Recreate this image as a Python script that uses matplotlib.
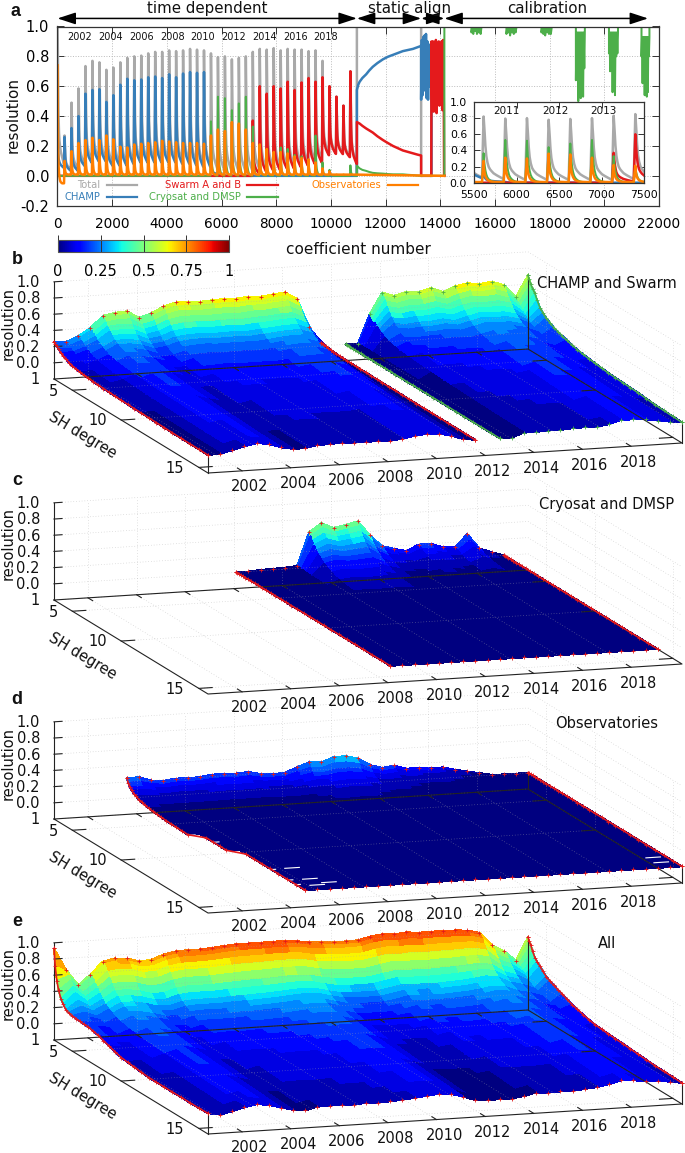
import numpy as np
import matplotlib
matplotlib.use("Agg")
import matplotlib.pyplot as plt
from matplotlib.cm import ScalarMappable
from matplotlib.colors import BoundaryNorm, Normalize
from mpl_toolkits.mplot3d import proj3d
from mpl_toolkits.mplot3d.art3d import Poly3DCollection

W, H = 685, 1153
plt.rcParams.update({
    "font.family": "DejaVu Sans",
    "axes.unicode_minus": False,
    "text.color": "#111111",
})

GREY, BLUE, RED, GREEN, ORANGE = "#a9a9a9", "#377eb8", "#e41a1c", "#4daf4a", "#ff7f00"

# ---- panel a: peak and end-of-epoch value for each of the 43 epochs (255 coefficients each)
epoch_len = 255
total_peak = [1.0, .27, .49, .585, .735, .77, .76, .71, .725, .76, .79, .80, .805, .82, .83, .83, .84, .835, .84, .85,
              .845, .84, .82, .795, .80, .78, .79, .80, .83, .85, .845, .855, .84, .85, .845, .845, .835, .84, .77,
              .60, .53, .47, .70]
total_end = [.06, .04, .04, .07, .09, .10, .10, .07, .07, .07, .08, .09, .09, .09, .09, .09, .09, .08, .08, .07, .06,
             .05, .03, .02, .02, .02, .02, .02, .03, .03, .04, .04, .05, .05, .06, .07, .08, .09, .14, .15, .15, .13,
             .08]
champ_peak = [.28, .26, .32, .40, .55, .575, .58, .495, .54, .61, .65, .64, .645, .66, .665, .655, .68, .66, .685, .695,
              .69, .695, .10, .01] + [0.0] * 19
champ_end = [.05, .03, .03, .06, .08, .09, .09, .06, .06, .06, .07, .08, .08, .08, .08, .08, .08, .07, .07, .06, .05,
             .05, .01] + [0.0] * 20
swarm_peak = [0.0] * 28 + [.37, .60, .55, .60, .585, .63, .575, .625, .655, .63, .66, .60, .53, .47, .70]
swarm_end = [0.0] * 28 + [.01, .02, .03, .03, .04, .04, .05, .06, .07, .08, .13, .14, .14, .12, .07]
cryo_peak = [0.0] * 22 + [.365, .53, .52, .44, .485, .53, .33, .20, .13, .12, .19, .18, .14, .13, .11, .27, .09, .04,
                          0.0, 0.0, .07]
obs_peak = [.74, .10, .165, .22, .24, .255, .24, .27, .245, .195, .19, .21, .215, .22, .225, .235, .23, .225, .22, .22,
            .22, .215, .27, .31, .30, .36, .35, .31, .22, .21, .18, .16, .16, .15, .13, .12, .11, .09, .05, .03, .01,
            .01, .01]
obs_end = [-.05] + [.008] * 42

# static alignment part of panel a
static_x = [10950, 11000, 11050, 11150, 11290, 11400, 11530, 11700, 11900, 12080, 12270, 12450, 12630, 12820, 13000,
            13150, 13300]
static_champ = [.575, .61, .63, .655, .68, .705, .73, .755, .78, .797, .81, .823, .835, .843, .85, .86, .87]
static_swarm = [.36, .355, .35, .335, .317, .305, .29, .265, .24, .22, .20, .185, .17, .16, .15, .143, .136]
static_cryo = [.067, .058, .05, .04, .033, .026, .02, .017, .015, .012, .01, .01, .01, .007, .005, .002, 0.0]
noise_champ = [.51, .91, .54, .93, .60, .94, .57, .95, .52, .90, .51, .88, .60, .86, .70, .80]
noise_swarm = [.90, .45, .90, .43, .88, .46, .91, .42, .88, .52, .90, .47, .86, .50, .90, .44, .91, .48]

# calibration part of panel a: range of each dropout block and its lows
calib_start = [15140, 16420, 17700, 18960, 20170, 21360]
calib_stop = [15510, 16790, 18080, 19290, 20500, 21650]
calib_high = [1.0, 1.0, 1.0, .96, .96, .93]
calib_low = [[.96, .95, .97, .95, .96, .95],
             [.95, .96, .94, .96, .95, .96],
             [.96, .95, .94, .96, .95, .95],
             [.64, .70, .50, .64, .52, .68, .53, .72],
             [.82, .70, .80, .56, .82, .54, .80, .82],
             [.80, .62, .82, .54, .80, .53, .56, .80]]

# ---- panels b-e: resolution per epoch
epochs = np.arange(40) * 0.5 + 2000.6
coef_rows = [0, 2, 5, 8, 12, 16, 21, 26, 32, 38, 45, 52, 60, 68, 77, 86, 96, 106, 117, 128, 140, 152, 165, 178, 192,
             206, 221, 236, 252, 268]

back_champ = [.26, .25, .31, .40, .54, .57, .58, .49, .535, .61, .65, .65, .64, .65, .655, .65, .665, .655, .675, .69,
              .60, .24, .04]
front_champ = [.02, .03, .06, .10, .13, .11, .06, .03, .03, .06, .06, .07, .06, .06, .06, .055, .07, .10, .11, .105,
               .07, .02, 0.0]
back_swarm = [0.0, 0.0, .36, .61, .56, .60, .59, .63, .57, .63, .66, .64, .66, .61, .45, .71]
front_swarm = [0.0, 0.0, .05, .05, .057, .055, .067, .07, .067, .09, .13, .13, .12, .095, .073, .055]
last_swarm = [.71, .67, .62, .58, .54, .47, .40, .36, .32, .29, .26, .24, .22, .20, .18, .165, .15, .14, .13, .12, .11,
              .105, .10, .095, .09, .08, .07, .065, .06, .055]
fall_b = [1, .93, .85, .75, .65, .56, .47, .40, .33, .29, .25, .225, .20, .18, .16, .145, .13, .115, .10, .09, .08, .07,
          .06, .05, .04, .03, .02, .015, .01, 0]

back_cryo = [0.0, 0.0, .01, .015, .02, .03, .44, .54, .47, .50, .535, .35, .21, .165, .13, .20, .20, .15, .14, .29,
             .105, .05, 0.0]
front_cryo = [.004] * 23
fall_c = [1, .90, .80, .70, .60, .51, .42, .35, .28, .23, .18, .15, .12, .10, .08, .065, .05, .04, .03, .025, .02, .015,
          .01, .007, .005, .002, 0, 0, 0, 0]

back_obs = [.25, .25, .20, .185, .205, .20, .205, .225, .225, .22, .23, .195, .185, .19, .25, .30, .29, .345, .35, .31,
            .22, .175, .195, .145, .15, .13, .135, .095, .065, .035, .005, 0.0, 0.0, 0.0]
front_obs = [.005] * 34
fall_d = [1, .80, .62, .52, .42, .35, .28, .23, .18, .145, .11, .09, .07, .055, .04, .03, .02, .015, .01, .007, .005,
          .002, 0, 0, 0, 0, 0, 0, 0, 0]
obs_row_start = [0] * 18 + [1] * 4 + [2] * 8
obs_hole_year = [2003.6, 2004.06, 2004.5, 2005.5, 2004.5, 2004.5, 2005.5, 2005.4, 2006.0, 2019.6, 2019.6]
obs_hole_coef = [106, 128, 208, 207, 238, 251, 238, 255, 250, 239, 253]

back_all = [.93, .655, .46, .58, .73, .76, .75, .705, .715, .77, .80, .805, .805, .815, .83, .84, .84, .84, .845, .84,
            .83, .805, .80, .79, .79, .795, .83, .85, .84, .855, .84, .845, .84, .84, .83, .79, .63, .55, .42, .70]
front_all = [.025, .03, .06, .10, .13, .11, .07, .03, .015, .05, .055, .05, .05, .06, .055, .06, .07, .085, .10, .115,
             .105, .06, .01, 0.0, 0.0, 0.0, .02, .055, .045, .05, .05, .06, .075, .10, .14, .13, .11, .10, .085, .055]
first_all = [.93, .72, .55, .45, .36, .31, .26, .245, .235, .23, .225, .22, .22, .205, .19, .165, .14, .115, .09, .08,
             .07, .06, .05, .05, .05, .05, .05, .05, .05, .055]
last_all = [.70, .66, .62, .56, .50, .465, .43, .39, .35, .325, .30, .278, .255, .228, .20, .18, .16, .14, .125, .118,
            .11, .105, .10, .092, .085, .078, .07, .067, .065, .06]
fall_e = [1, .96, .92, .84, .75, .65, .54, .46, .38, .33, .28, .245, .21, .19, .17, .155, .14, .125, .11, .10, .09, .08,
          .07, .06, .05, .04, .03, .02, .01, 0]

year_ticks = [2002, 2004, 2006, 2008, 2010, 2012, 2014, 2016, 2018]
degree_ticks = [1, 5, 10, 15]
degree_tick_coef = [0, 32, 117, 252]
res_ticks = [0.0, 0.2, 0.4, 0.6, 0.8, 1.0]

fig = plt.figure(figsize=(W / 100, H / 100), dpi=100)


def box(left, top, right, bottom):
    return [left / W, 1 - bottom / H, (right - left) / W, (bottom - top) / H]


def ptext(x, y, s, **kw):
    kw.setdefault("ha", "center")
    kw.setdefault("va", "center")
    fig.text(x / W, 1 - y / H, s, **kw)


def epoch_curve(peak, end, fall):
    xs, ys = [], []
    for k in range(len(peak)):
        for c, f in zip(coef_rows[:28], fall[:28]):
            xs.append(k * epoch_len + c + 3)
            ys.append(end[k] + (peak[k] - end[k]) * f)
    return xs, ys


def alternate(start, stop, low, high):
    xs = np.linspace(start, stop, 2 * len(low))
    ys = np.ravel(np.column_stack([low, [high] * len(low)]))
    return list(xs), list(ys)


def draw_series(ax, lw):
    x, y = epoch_curve(total_peak, total_end, fall_e)
    ax.plot(x + [10950, 10950, 13300, 13300], y + [0.0, 1.0, 1.0, 0.0], color=GREY, lw=lw)

    x, y = epoch_curve(champ_peak, champ_end, fall_b)
    nx = list(np.linspace(13300, 13680, len(noise_champ)))
    ax.plot(x + static_x + nx + [13680], y + static_champ + noise_champ + [0.0], color=BLUE, lw=lw)

    x, y = epoch_curve(swarm_peak, swarm_end, fall_b)
    nx = list(np.linspace(13680, 14130, len(noise_swarm)))
    ax.plot(x + static_x + [13300, 13670] + nx + [14140, 14150],
            y + static_swarm + [0.0, 0.0] + noise_swarm + [0.0, 0.0], color=RED, lw=lw)

    x, y = epoch_curve(cryo_peak, [0.0] * len(cryo_peak), fall_c)
    x = x + static_x + [14150, 14150]
    y = y + static_cryo + [0.0, 1.0]
    for start, stop, high, low in zip(calib_start, calib_stop, calib_high, calib_low):
        bx, by = alternate(start, stop, low, high)
        x += [start] + bx + [stop]
        y += [1.0] + by + [1.0]
    ax.plot(x, y, color=GREEN, lw=lw * 0.8)

    x, y = epoch_curve(obs_peak, obs_end, fall_d)
    ax.plot(x + [14150], y + [0.0], color=ORANGE, lw=lw)


# ---- panel a
ax = fig.add_axes(box(57.5, 26.5, 659, 205.7))
draw_series(ax, 1.8)
ax.set_xlim(0, 22000)
ax.set_ylim(-0.2, 1.0)
ax.set_xticks(np.arange(0, 22001, 2000))
ax.set_yticks(np.arange(-0.2, 1.01, 0.2))
ax.set_yticklabels([f"{v:.1f}" for v in np.arange(-0.2, 1.01, 0.2)])
ax.tick_params(direction="in", top=True, right=True, length=5, width=0.7, labelsize=10, color="#333333")
ax.tick_params(axis="x", pad=8, labelsize=9.8)
ax.tick_params(axis="y", pad=6, labelsize=10.5)
ax.grid(True, ls=":", color="#bbbbbb", lw=0.7)
for s in ax.spines.values():
    s.set_color("#333333")
    s.set_linewidth(0.9)

year_label_x = [820, 1945, 3070, 4195, 5320, 6445, 7570, 8695, 9820]
for xp, yr in zip(year_label_x, year_ticks):
    ax.text(xp, 0.93, str(yr), fontsize=7, ha="center", va="center")

legend_names = ["Total", "CHAMP", "Swarm A and B", "Cryosat and DMSP", "Observatories"]
legend_colors = [GREY, BLUE, RED, GREEN, ORANGE]
legend_y = [-.062, -.142, -.062, -.142, -.062]
legend_text_x = [1554, 1554, 6710, 6710, 11828]
legend_x0 = [1810, 1810, 6929, 6929, 12084]
legend_x1 = [2907, 2907, 8062, 8062, 13181]
for i, name in enumerate(legend_names):
    ax.text(legend_text_x[i], legend_y[i], name, color=legend_colors[i], fontsize=7.2, ha="right", va="center")
    ax.plot([legend_x0[i], legend_x1[i]], [legend_y[i]] * 2, color=legend_colors[i], lw=1.6)

arrow_x0 = [0, 10950, 13300, 14150]
arrow_x1 = [10950, 13300, 14150, 21600]
for x0, x1 in zip(arrow_x0, arrow_x1):
    ax.annotate("", xy=(x1, 1.045), xytext=(x0, 1.045), xycoords=("data", "axes fraction"), annotation_clip=False,
                arrowprops=dict(arrowstyle="<|-|>,head_length=1.1,head_width=0.36", color="black", lw=1.1,
                                shrinkA=0, shrinkB=0))

ptext(207, 8.5, "time dependent", fontsize=10.8)
ptext(410, 8.5, "static align", fontsize=10.8)
ptext(547, 8.5, "calibration", fontsize=10.8)
ptext(13, 115, "resolution", fontsize=11, rotation=90)
ptext(358, 250, "coefficient number", fontsize=11)
ptext(16, 11, "a", fontsize=13, family="Liberation Sans", weight="bold")

# inset
axi = fig.add_axes(box(474, 102, 644, 182.7), zorder=5)
draw_series(axi, 1.8)
axi.set_xlim(5500, 7500)
axi.set_ylim(0, 1)
axi.set_xticks([5500, 6000, 6500, 7000, 7500])
axi.set_yticks([0, .2, .4, .6, .8, 1.0])
axi.set_yticklabels(["0.0", "0.2", "0.4", "0.6", "0.8", "1.0"])
axi.tick_params(direction="in", top=True, right=True, length=4, width=0.7, labelsize=7.8, color="#333333", pad=5)
for s in axi.spines.values():
    s.set_color("#333333")
    s.set_linewidth(0.9)
inset_year_x = [5884, 6453, 7018]
for xp, yr in zip(inset_year_x, [2011, 2012, 2013]):
    axi.text(xp, 0.888, str(yr), fontsize=7.5, ha="center", va="center")

# colour bar
cax = fig.add_axes(box(58, 240, 229, 252))
cb = fig.colorbar(ScalarMappable(Normalize(0, 1), "jet"), cax=cax, orientation="horizontal",
                  ticks=[0, .25, .5, .75, 1])
cb.ax.set_xticklabels(["0", "0.25", "0.5", "0.75", "1"])
cb.ax.tick_params(direction="in", length=12, width=0.7, color="#333333", labelsize=10.5, pad=9)
cb.outline.set_edgecolor("#555555")

# ---- panels b-e
surface_norm = BoundaryNorm(np.linspace(0, 1, 25), 256)
surface_cmap = plt.get_cmap("jet")


def place_axes(ax3, off):
    # move the square axes so the floor corners land where the reference has them
    ax3.apply_aspect()
    M = ax3.get_proj()
    xa, ya, _ = proj3d.proj_transform(epochs[0], 0, -0.2, M)
    xd, yd, _ = proj3d.proj_transform(epochs[-1], 268, -0.2, M)
    a = ax3.transData.transform((xa, ya))
    d = ax3.transData.transform((xd, yd))
    pos = ax3.get_position()
    side = pos.width * W
    cx, cy = (pos.x0 + pos.width / 2) * W, (pos.y0 + pos.height / 2) * H
    scale = (682 - 54) / (d[0] - a[0])
    target = np.array([54, H - (379 + off)])
    new_c = target - scale * (a - np.array([cx, cy]))
    side *= scale
    ax3.set_position([(new_c[0] - side / 2) / W, (new_c[1] - side / 2) / H, side / W, side / H])
    ax3.apply_aspect()


def label3d(ax3, x, y, z, s, **kw):
    # plain figure text anchored at a projected point of the 3d axes
    px, py, _ = proj3d.proj_transform(x, y, z, ax3.get_proj())
    dx, dy = ax3.transData.transform((px, py))
    kw.setdefault("ha", "center")
    kw.setdefault("va", "center")
    fig.text(dx / W, dy / H, s, **kw)


def draw_surface(ax3, years, back, front, fall, first=None, last=None, start=None, color=RED):
    Z = np.array([[f + (b - f) * r for b, f in zip(back, front)] for r in fall])
    if first is not None:
        Z[:, 0] = first
    if last is not None:
        Z[:, -1] = last
    if start is not None:
        for r, s in enumerate(start):
            Z[r, :s] = np.nan
    verts, cols = [], []
    for r in range(Z.shape[0] - 1):
        for k in range(Z.shape[1] - 1):
            zc = Z[r:r + 2, k:k + 2]
            if not np.isfinite(zc).all():
                continue
            verts.append([(years[k], coef_rows[r], Z[r, k]), (years[k + 1], coef_rows[r], Z[r, k + 1]),
                          (years[k + 1], coef_rows[r + 1], Z[r + 1, k + 1]), (years[k], coef_rows[r + 1], Z[r + 1, k])])
            cols.append(surface_cmap(surface_norm(zc.mean()) / 255))
    poly = Poly3DCollection(verts, facecolors=cols, edgecolors=cols, linewidths=0.6, antialiaseds=False, zorder=2)
    ax3.add_collection3d(poly)
    # edge points: sparse along the epochs, dense along the coefficients
    marks = dict(color=color, marker="+", ms=2.6, mew=0.6, zorder=5)
    ax3.plot(years, [coef_rows[0]] * len(years), Z[0], lw=0, **marks)
    ax3.plot(years, [coef_rows[-1]] * len(years), Z[-1], lw=0, **marks)
    starts = [np.argmax(np.isfinite(Z[r])) for r in range(len(coef_rows))]
    ax3.plot([years[s] for s in starts], coef_rows, [Z[r, s] for r, s in enumerate(starts)], lw=1.2, **marks)
    ax3.plot([years[-1]] * len(coef_rows), coef_rows, Z[:, -1], lw=1.2, **marks)
    return Z


def frame_panel(ax3, off):
    x0, x1 = epochs[0], epochs[-1]
    y0, y1 = 0, 268
    floor = -0.2
    dotted = dict(color="#aaaaaa", lw=0.5, ls=(0, (1, 3)), alpha=0.65, zorder=3)
    for z in res_ticks + [floor]:
        ax3.plot([x0, x1], [y0, y0], [z, z], **dotted)
        ax3.plot([x1, x1], [y0, y1], [z, z], **dotted)
    for yr in year_ticks:
        ax3.plot([yr, yr], [y0, y0], [floor, 1.0], **dotted)
        ax3.plot([yr, yr], [y0, y1], [floor, floor], **dotted)
    for c in degree_tick_coef[1:]:
        ax3.plot([x1, x1], [c, c], [floor, 1.0], **dotted)
        ax3.plot([x0, x1], [c, c], [floor, floor], **dotted)

    solid = dict(color="#222222", lw=0.8, zorder=4)
    ax3.plot([x0, x1, x1, x0, x0], [y0, y0, y1, y1, y0], [floor] * 5, **solid)
    ax3.plot([x0, x0], [y0, y0], [floor, 1.0], **solid)
    for z in res_ticks:
        ax3.plot([x0, x0 + 0.33], [y0, y0], [z, z], **solid)
        label3d(ax3, x0 - 0.58, y0, z, f"{z:.1f}", ha="right", fontsize=10.5)
    for yr in year_ticks:
        ax3.plot([yr, yr], [y1, y1 - 8], [floor, floor], **solid)
        ax3.plot([yr, yr], [y0, y0 + 8], [floor, floor], **solid)
        label3d(ax3, yr - 0.68, y1 + 42, floor, str(yr), fontsize=10.5)
    for d, c in zip(degree_ticks, degree_tick_coef):
        if d > 1:
            ax3.plot([x0, x0 + 0.55], [c, c], [floor, floor], **solid)
            ax3.plot([x1 - 0.55, x1], [c, c], [floor, floor], **solid)
        label3d(ax3, x0 - 0.6, c, floor, str(d), ha="right", fontsize=10.5)
    ptext(82, 435 + off, "SH degree", rotation=-31, rotation_mode="anchor", fontsize=10.5)
    ptext(8, 323 + off, "resolution", rotation=90, fontsize=10.5)


def make_panel(off):
    ax3 = fig.add_axes([0.0, 0.2, 1.0, 0.6], projection="3d", proj_type="ortho", computed_zorder=False)
    ax3.set_box_aspect((497.9, 502.4, 99.1))
    ax3.view_init(elev=11.335, azim=-107.85)
    ax3.set_xlim(epochs[0], epochs[-1])
    ax3.set_ylim(268, 0)
    ax3.set_zlim(-0.2, 1.0)
    ax3.set_axis_off()
    ax3.patch.set_visible(False)
    place_axes(ax3, off)
    frame_panel(ax3, off)
    return ax3


def corner_post(ax3, year, coef, top):
    ax3.plot([year, year], [coef, coef], [-0.2, top], color="#222222", lw=0.8, zorder=4)


# b
axb = make_panel(0)
Zb = draw_surface(axb, epochs[:23], back_champ, front_champ, fall_b)
Zs = draw_surface(axb, epochs[24:], back_swarm, front_swarm, fall_b, last=last_swarm, color=GREEN)
corner_post(axb, epochs[0], 268, Zb[-1, 0])
corner_post(axb, epochs[-1], 0, Zs[0, -1])
corner_post(axb, epochs[-1], 268, Zs[-1, -1])
ptext(607, 283, "CHAMP and Swarm", fontsize=10.5)
ptext(17, 260, "b", fontsize=13, family="Liberation Sans", weight="bold")

# c
axc = make_panel(221)
draw_surface(axc, epochs[15:38], back_cryo, front_cryo, fall_c)
ptext(607, 504, "Cryosat and DMSP", fontsize=10.5)
ptext(17, 481, "c", fontsize=13, family="Liberation Sans", weight="bold")

# d
axd = make_panel(440)
Zd = draw_surface(axd, epochs[6:], back_obs, front_obs, fall_d, start=obs_row_start)
corner_post(axd, epochs[-1], 0, Zd[0, -1])
corner_post(axd, epochs[-1], 268, Zd[-1, -1])
for yr, c in zip(obs_hole_year, obs_hole_coef):
    axd.plot([yr - 0.3, yr + 0.3], [c, c], [0.0, 0.0], color="white", lw=0.8, zorder=4)
ptext(607, 724, "Observatories", fontsize=10.5)
ptext(17, 700, "d", fontsize=13, family="Liberation Sans", weight="bold")

# e
axe = make_panel(661)
Ze = draw_surface(axe, epochs, back_all, front_all, fall_e, first=first_all, last=last_all)
corner_post(axe, epochs[0], 268, Ze[-1, 0])
corner_post(axe, epochs[-1], 0, Ze[0, -1])
corner_post(axe, epochs[-1], 268, Ze[-1, -1])
ptext(607, 944, "All", fontsize=10.5)
ptext(17, 922, "e", fontsize=13, family="Liberation Sans", weight="bold")

fig.savefig("out.png", dpi=100)
